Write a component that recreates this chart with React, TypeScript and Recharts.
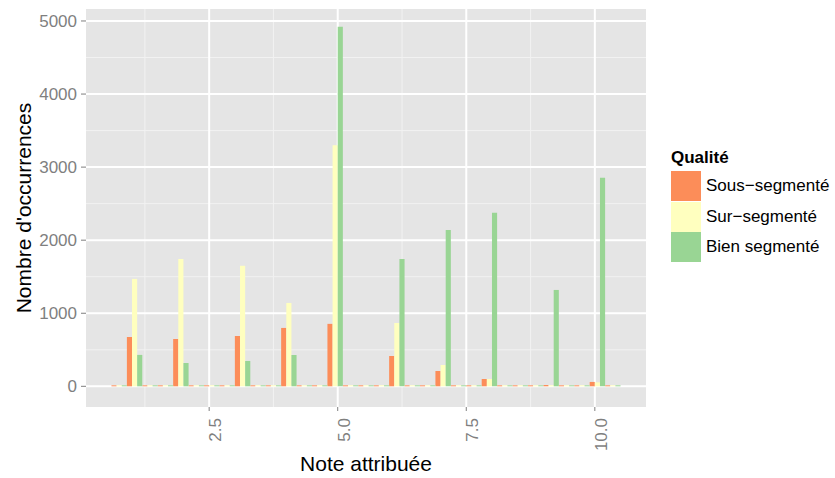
import { BarChart, Bar, XAxis, YAxis, CartesianGrid, Legend } from "recharts";

// bin centres of the histogram (note attribuée)
const binCentres = [
  0.75, 1.05, 1.35, 1.65, 1.95, 2.25, 2.55, 2.85, 3.15, 3.45, 3.75, 4.05, 4.35, 4.65, 4.95, 5.25, 5.55,
  5.85, 6.15, 6.45, 6.75, 7.05, 7.35, 7.65, 7.95, 8.25, 8.55, 8.85, 9.15, 9.45, 9.75, 10.05, 10.35,
];
const sousSegmente = [
  0, 675, 0, 0, 648, 0, 0, 0, 689, 0, 0, 799, 0, 0, 855, 0, 0, 0, 415, 0, 0, 210, 0, 0, 100, 0, 0, 0, 18, 0, 0, 60, 0,
];
const surSegmente = [
  0, 1470, 0, 0, 1744, 0, 0, 0, 1650, 0, 0, 1141, 0, 0, 3300, 0, 0, 0, 867, 0, 0, 292, 0, 0, 100, 0, 0, 0, 5, 0, 0, 55, 0,
];
const bienSegmente = [
  0, 430, 0, 0, 319, 0, 0, 0, 347, 0, 0, 429, 0, 0, 4922, 0, 0, 0, 1744, 0, 0, 2141, 0, 0, 2374, 0, 0, 0, 1319, 0, 0, 2853, 0,
];

const xTicks = [2.5, 5, 7.5, 10];
const xMinor = [1.25, 3.75, 6.25, 8.75];
const yTicks = [0, 1000, 2000, 3000, 4000, 5000];
const yMinor = [500, 1500, 2500, 3500, 4500];

const series = [
  { key: "sous", name: "Sous\u2212segmenté", color: "#FC8D59" },
  { key: "sur", name: "Sur\u2212segmenté", color: "#FFFFBF" },
  { key: "bien", name: "Bien segmenté", color: "#99D594" },
];

const data = binCentres.map((x, i) => ({
  x,
  sous: sousSegmente[i],
  sur: surSegmente[i],
  bien: bienSegmente[i],
}));

const font = "'Liberation Sans', Arial, Helvetica, sans-serif";

function XTick({ x, y, payload }: any) {
  return (
    <g transform={`translate(${x},${y})`}>
      <text transform="rotate(-90)" x={0} y={12} textAnchor="end" fill="#7F7F7F" fontSize={17} fontFamily={font}>
        {Number(payload.value).toFixed(1)}
      </text>
    </g>
  );
}

function XTitle() {
  return (
    <text x={366} y={471} textAnchor="middle" fontSize={21} fill="#000" fontFamily={font}>
      Note attribuée
    </text>
  );
}

function YTitle() {
  return (
    <text
      x={31}
      y={208}
      transform="rotate(-90, 31, 208)"
      textAnchor="middle"
      fontSize={21}
      fill="#000"
      fontFamily={font}
    >
      Nombre d'occurrences
    </text>
  );
}

function QualiteLegend() {
  return (
    <div style={{ position: "relative", width: 160, height: 125, fontFamily: font, color: "#000" }}>
      <div style={{ position: "absolute", left: 0, top: 0, fontSize: 17, lineHeight: "17px", fontWeight: "bold" }}>
        Qualité
      </div>
      {series.map((s, i) => (
        <div key={s.key} style={{ position: "absolute", left: 0, top: 22 + i * 30.5, height: 30, display: "flex" }}>
          <div style={{ width: 30, height: 30, background: s.color }} />
          <div style={{ marginLeft: 5, fontSize: 17, lineHeight: "30px", whiteSpace: "nowrap" }}>{s.name}</div>
        </div>
      ))}
    </div>
  );
}

export default function App() {
  return (
    <div style={{ position: "absolute", left: 0, top: 0, width: 835, height: 478, background: "#fff" }}>
      <BarChart
        width={835}
        height={478}
        data={data}
        margin={{ top: 9, right: 189, bottom: 11, left: 0 }}
        barCategoryGap={0}
        barGap={0}
      >
        <CartesianGrid
          fill="#E5E5E5"
          stroke="#F2F2F2"
          strokeWidth={1}
          horizontalValues={yMinor}
          verticalValues={xMinor}
        />
        <CartesianGrid stroke="#FFFFFF" strokeWidth={2} horizontalValues={yTicks} verticalValues={xTicks} />
        <XAxis
          dataKey="x"
          type="number"
          domain={[0.105, 10.995]}
          allowDataOverflow
          ticks={xTicks}
          interval={0}
          height={60}
          axisLine={false}
          tickSize={4}
          tickMargin={7}
          tickLine={{ stroke: "#7F7F7F", strokeWidth: 1 }}
          tick={<XTick />}
          label={<XTitle />}
        />
        <YAxis
          type="number"
          domain={[-283, 5164]}
          allowDataOverflow
          ticks={yTicks}
          interval={0}
          width={86}
          axisLine={false}
          tickSize={5}
          tickMargin={4}
          tickLine={{ stroke: "#7F7F7F", strokeWidth: 1 }}
          tick={{ fill: "#7F7F7F", fontSize: 17, fontFamily: font }}
          label={<YTitle />}
        />
        <Legend
          layout="horizontal"
          verticalAlign="middle"
          align="center"
          wrapperStyle={{ left: 671, top: 149, width: 160 }}
          content={<QualiteLegend />}
        />
        {series.map((s) => (
          <Bar
            key={s.key}
            dataKey={s.key}
            name={s.name}
            fill={s.color}
            barSize={5.14}
            minPointSize={1}
            isAnimationActive={false}
          />
        ))}
      </BarChart>
    </div>
  );
}
